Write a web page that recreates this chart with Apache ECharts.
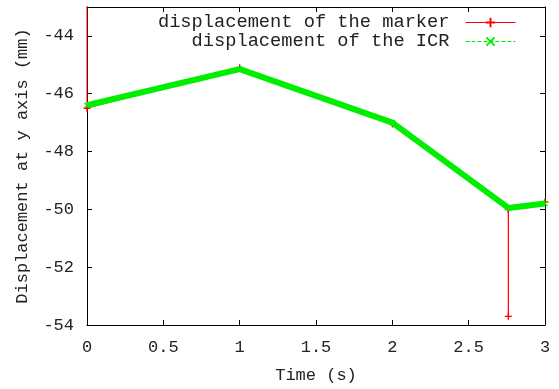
<!DOCTYPE html>
<html>
<head>
<meta charset="utf-8">
<script src="https://cdn.jsdelivr.net/npm/echarts@6/dist/echarts.min.js"></script>
<style>html,body{margin:0;padding:0;background:#fff}#c{width:559px;height:389px}</style>
</head>
<body>
<div id="c"></div>
<script>
var markerTime = [0, 0, 1, 2, 2.76, 2.76, 2.76, 3];
var markerDisp = [-40, -46.5, -45.1, -47.05, -50.0, -53.7, -50.0, -49.75];
var icrTime = [0, 1, 2, 2.76, 3];
var icrDisp = [-46.4, -45.15, -47.0, -49.95, -49.8];
var xTicks = { min: 0, max: 3, interval: 0.5 };
var yTicks = { min: -54, max: -43, interval: 2 };
var seriesNames = ['displacement of the marker', 'displacement of the ICR'];

function zip(a, b) { return a.map(function (v, i) { return [v, b[i]]; }); }
var plus = 'path://M4,0h2v4h4v2h-4v4h-2v-4h-4v-2h4z';
var cross = 'path://M1.4,0L5,3.6L8.6,0L10,1.4L6.4,5L10,8.6L8.6,10L5,6.4L1.4,10L0,8.6L3.6,5L0,1.4z';
var font = 'Liberation Mono';
var chart = echarts.init(document.getElementById('c'));
function xa(pos, show) {
  return { type: 'value', position: pos, min: xTicks.min, max: xTicks.max, interval: xTicks.interval,
    name: show ? 'Time (s)' : '', nameLocation: 'middle', nameGap: 42,
    nameTextStyle: { fontFamily: font, fontSize: 17, color: '#222' },
    axisLine: { show: true, onZero: false, lineStyle: { color: '#000', width: 1 } },
    axisTick: { show: true, inside: true, length: 5, lineStyle: { color: '#000' } },
    axisLabel: { show: show, margin: 14, fontFamily: font, fontSize: 17, color: '#222' },
    splitLine: { show: false } };
}
function ya(pos, show) {
  return { type: 'value', position: pos, min: yTicks.min, max: yTicks.max, interval: yTicks.interval,
    name: show ? 'Displacement at y axis (mm)' : '', nameLocation: 'middle', nameGap: 56,
    nameTextStyle: { fontFamily: font, fontSize: 17, color: '#222' },
    axisLine: { show: true, onZero: false, lineStyle: { color: '#000', width: 1 } },
    axisTick: { show: true, inside: true, length: 5, lineStyle: { color: '#000' } },
    axisLabel: { show: show, margin: 13, showMaxLabel: false, fontFamily: font, fontSize: 17, color: '#222' },
    splitLine: { show: false } };
}
chart.setOption({
  animation: false,
  backgroundColor: '#fff',
  grid: { left: 87, right: 14, top: 7, bottom: 63 },
  xAxis: [xa('bottom', true), xa('top', false)],
  yAxis: [ya('left', true), ya('right', false)],
  legend: {
    orient: 'vertical', align: 'right', right: 43, top: 13, padding: 0,
    itemWidth: 50, itemHeight: 12, itemGap: 0,
    textStyle: { fontFamily: font, fontSize: 18.7, color: '#222', lineHeight: 19, padding: [0, 11, 0, 0] },
    data: [
      { name: seriesNames[0], lineStyle: { width: 1, type: 'solid' } },
      { name: seriesNames[1], lineStyle: { width: 1, type: 'dashed' } }
    ]
  },
  series: [
    { name: seriesNames[0], type: 'line', data: zip(markerTime, markerDisp),
      xAxisIndex: 0, yAxisIndex: 0, symbol: plus, symbolSize: 7, showAllSymbol: true,
      itemStyle: { color: '#ff0000' }, lineStyle: { color: '#ff0000', width: 1 }, z: 2 },
    { name: seriesNames[1], type: 'line', data: zip(icrTime, icrDisp),
      xAxisIndex: 0, yAxisIndex: 0, symbol: cross, symbolSize: 6, showAllSymbol: true,
      itemStyle: { color: '#00ee00' }, lineStyle: { color: '#00ee00', width: 6 }, z: 3 }
  ]
});
</script>
</body>
</html>
